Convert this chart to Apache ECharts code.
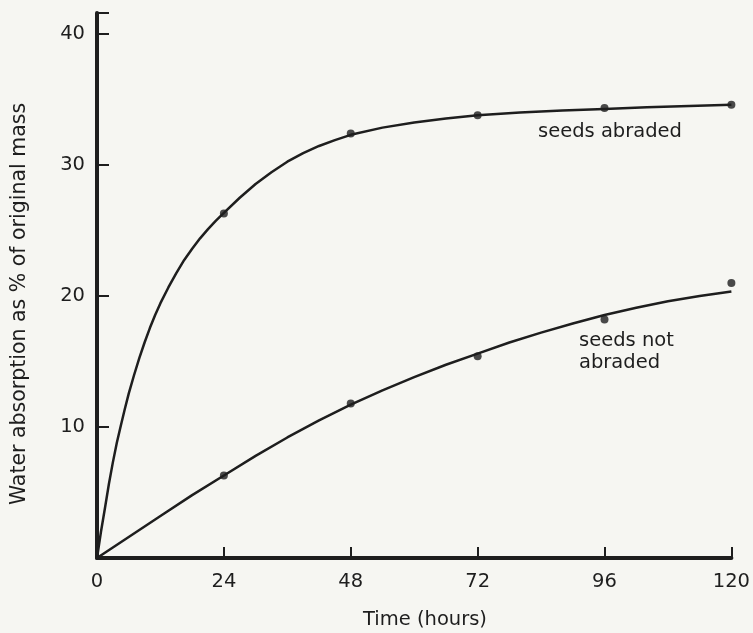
<!DOCTYPE html>
<html>
<head>
<meta charset="utf-8">
<script src="https://cdn.jsdelivr.net/npm/echarts@6/dist/echarts.min.js"></script>
<style>
  html, body { margin: 0; padding: 0; background: #f6f6f2; }
  #chart { width: 753px; height: 633px; }
</style>
</head>
<body>
<div id="chart"></div>
<script>
// measured points (hours, % of original mass)
const hours = [24, 48, 72, 96, 120];
const abradedPts = [26.3, 32.4, 33.8, 34.35, 34.6];
const notAbradedPts = [6.3, 11.8, 15.4, 18.2, 21.0];

// fitted curves
const abradedCurveX = [0, 0.75, 1.5, 2.25, 3, 3.75, 4.5, 5.25, 6, 7, 8, 9, 10, 11, 12, 13.5, 15, 16.5, 18, 19.5, 21, 22.5, 24,
  27, 30, 33, 36, 39, 42, 45, 48, 54, 60, 66, 72, 80, 88, 96, 104, 112, 120];
const abradedCurveY = [0, 2.0, 3.8, 5.65, 7.3, 8.8, 10.1, 11.35, 12.55, 13.95, 15.25, 16.45, 17.55, 18.55, 19.45, 20.65, 21.75, 22.75, 23.6, 24.4, 25.1, 25.75, 26.35,
  27.5, 28.55, 29.45, 30.25, 30.9, 31.45, 31.9, 32.3, 32.85, 33.25, 33.55, 33.8, 34.0, 34.15, 34.28, 34.4, 34.5, 34.6];
const notAbradedCurveX = [0, 6, 12, 18, 24, 30, 36, 42, 48, 54, 60, 66, 72, 78, 84, 90, 96, 102, 108, 114, 120];
const notAbradedCurveY = [0, 1.6, 3.2, 4.8, 6.3, 7.8, 9.2, 10.5, 11.7, 12.8, 13.8, 14.75, 15.6, 16.45, 17.2, 17.9, 18.55, 19.1, 19.6, 20.0, 20.35];

const xTicks = [0, 24, 48, 72, 96, 120];
const yTicks = [10, 20, 30, 40];

const ink = '#1e1e1e';
const font = '"DejaVu Sans", sans-serif';

const pair = (xs, ys) => xs.map((x, i) => [x, ys[i]]);

const chart = echarts.init(document.getElementById('chart'));
chart.setOption({
  backgroundColor: '#f6f6f2',
  animation: false,
  grid: { left: 97, right: 18, top: 13, bottom: 75 },
  xAxis: {
    type: 'value',
    min: 0,
    max: 120,
    interval: 24,
    splitLine: { show: false },
    axisLine: { lineStyle: { color: ink, width: 4 } },
    axisTick: { inside: true, length: 11, lineStyle: { color: ink, width: 2 } },
    axisLabel: {
      color: ink, fontSize: 19.5, fontFamily: font, margin: 14,
      formatter: v => xTicks.includes(v) ? String(v) : ''
    }
  },
  yAxis: {
    type: 'value',
    min: 0,
    max: 41.6,
    interval: 10,
    splitLine: { show: false },
    axisLine: { lineStyle: { color: ink, width: 4 } },
    axisTick: { inside: true, length: 12, lineStyle: { color: ink, width: 2 } },
    axisLabel: {
      color: ink, fontSize: 19.5, fontFamily: font, margin: 12,
      formatter: v => yTicks.includes(v) ? String(v) : ''
    }
  },
  graphic: [
    {
      type: 'text', x: 20, y: 304, rotation: Math.PI / 2,
      style: {
        text: 'Water absorption as % of original mass',
        fill: ink, font: '20.5px ' + font, align: 'center', verticalAlign: 'middle'
      }
    },
    {
      type: 'text', x: 425, y: 620,
      style: { text: 'Time (hours)', fill: ink, font: '19.5px ' + font, align: 'center', verticalAlign: 'middle' }
    },
    {
      type: 'text', x: 610, y: 132,
      style: { text: 'seeds abraded', fill: ink, font: '19.5px ' + font, align: 'center', verticalAlign: 'middle' }
    },
    {
      type: 'text', x: 579, y: 352,
      style: { text: 'seeds not\nabraded', fill: ink, font: '19.5px ' + font, lineHeight: 22, align: 'left', verticalAlign: 'middle' }
    }
  ],
  series: [
    {
      type: 'line', data: pair(abradedCurveX, abradedCurveY), smooth: false,
      showSymbol: false, lineStyle: { color: ink, width: 2.5, join: 'round' }
    },
    {
      type: 'line', data: pair(notAbradedCurveX, notAbradedCurveY), smooth: false,
      showSymbol: false, lineStyle: { color: ink, width: 2.5, join: 'round' }
    },
    {
      type: 'scatter', data: pair(hours, abradedPts), symbolSize: 8, itemStyle: { color: ink }
    },
    {
      type: 'scatter', data: pair(hours, notAbradedPts), symbolSize: 8, itemStyle: { color: ink }
    }
  ]
});
</script>
</body>
</html>
